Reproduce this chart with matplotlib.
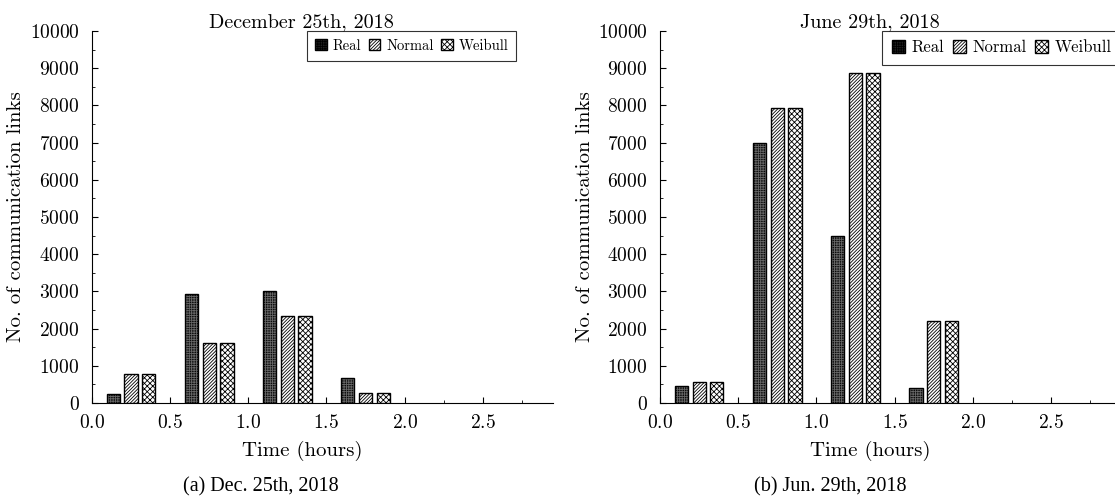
import numpy as np
import matplotlib
matplotlib.use("Agg")
import matplotlib.pyplot as plt
from matplotlib.ticker import MultipleLocator
from matplotlib.patches import Patch

plt.rcParams['font.family'] = 'serif'
plt.rcParams['font.serif'] = ['cmr10', 'DejaVu Serif']
plt.rcParams['mathtext.fontset'] = 'cm'
plt.rcParams['axes.formatter.use_mathtext'] = True
plt.rcParams['hatch.linewidth'] = 0.6

# bin centres (hours)
time_bins = [0.25, 0.75, 1.25, 1.75]
series = ["Real", "Normal", "Weibull"]

# December 25th, 2018
dec_real = [230, 2920, 3000, 680]
dec_normal = [780, 1620, 2350, 270]
dec_weibull = [780, 1620, 2350, 270]

# June 29th, 2018
jun_real = [450, 7000, 4500, 400]
jun_normal = [570, 7920, 8880, 2200]
jun_weibull = [570, 7920, 8880, 2200]

titles = ["December 25th, 2018", "June 29th, 2018"]
captions = ["(a) Dec. 25th, 2018", "(b) Jun. 29th, 2018"]

fig = plt.figure(figsize=(11.15, 4.98), dpi=100)
ax1 = fig.add_axes([0.0825, 0.1908, 0.4135, 0.747])
ax2 = fig.add_axes([0.592, 0.1908, 0.4135, 0.747])

width = 0.085
offsets = [-0.113, 0.0, 0.113]
HATCH_N = '/' * 10
HATCH_W = 'x' * 6
HATCH_R = '+' * 7


def draw_panel(ax, real, normal, weibull, title, legend_x, legend_fs):
    x = np.array(time_bins)
    # Real: black with a fine grey grid
    ax.bar(x + offsets[0], real, width, color='#0a0a0a', edgecolor='none', zorder=2)
    ax.bar(x + offsets[0], real, width, fill=False, hatch=HATCH_R, edgecolor='#666666',
           linewidth=0, zorder=3)
    ax.bar(x + offsets[0], real, width, fill=False, edgecolor='black', linewidth=1.0, zorder=4)
    # Normal: dense diagonal lines
    ax.bar(x + offsets[1], normal, width, color='white', hatch=HATCH_N, edgecolor='black',
           linewidth=1.0, zorder=2)
    # Weibull: checker
    ax.bar(x + offsets[2], weibull, width, color='white', hatch=HATCH_W, edgecolor='black',
           linewidth=1.0, zorder=2)

    ax.set_xlim(0, 2.95)
    ax.set_ylim(0, 10000)
    ax.set_xticks([0.0, 0.5, 1.0, 1.5, 2.0, 2.5])
    ax.set_yticks(np.arange(0, 10001, 1000))
    ax.xaxis.set_minor_locator(MultipleLocator(0.25))
    ax.yaxis.set_minor_locator(MultipleLocator(500))
    ax.tick_params(which='both', direction='in', labelsize=14)
    ax.tick_params(axis='x', which='major', length=4, pad=8)
    ax.tick_params(axis='y', which='major', length=4, pad=9)
    ax.tick_params(which='minor', length=2)
    ax.spines['top'].set_visible(False)
    ax.spines['right'].set_visible(False)
    ax.set_xlabel("Time (hours)", fontsize=15, x=0.455, labelpad=6)
    ax.set_ylabel("No. of communication links", fontsize=15, labelpad=3)
    ax.set_title(title, fontsize=14.5, x=0.455, pad=1)

    handles = [
        Patch(facecolor='#222222', edgecolor='black', hatch=HATCH_R),
        Patch(facecolor='white', edgecolor='black', hatch=HATCH_N),
        Patch(facecolor='white', edgecolor='black', hatch=HATCH_W),
    ]
    leg = ax.legend(handles, series, loc='upper right', bbox_to_anchor=(legend_x, 1.0),
                    ncol=3, fontsize=legend_fs, frameon=True, fancybox=False, shadow=False,
                    handlelength=0.8, handleheight=0.8, handletextpad=0.4,
                    columnspacing=0.5, borderpad=0.55, borderaxespad=0)
    leg.get_frame().set_edgecolor('black')
    leg.get_frame().set_linewidth(0.8)


draw_panel(ax1, dec_real, dec_normal, dec_weibull, titles[0], 0.92, 10.5)
draw_panel(ax2, jun_real, jun_normal, jun_weibull, titles[1], 1.0, 12)

fig.text(0.234, 0.022, captions[0], ha='center', va='center', fontsize=14.5,
         family='Liberation Serif')
fig.text(0.745, 0.022, captions[1], ha='center', va='center', fontsize=14.5,
         family='Liberation Serif')

fig.savefig("out.png", dpi=100)
